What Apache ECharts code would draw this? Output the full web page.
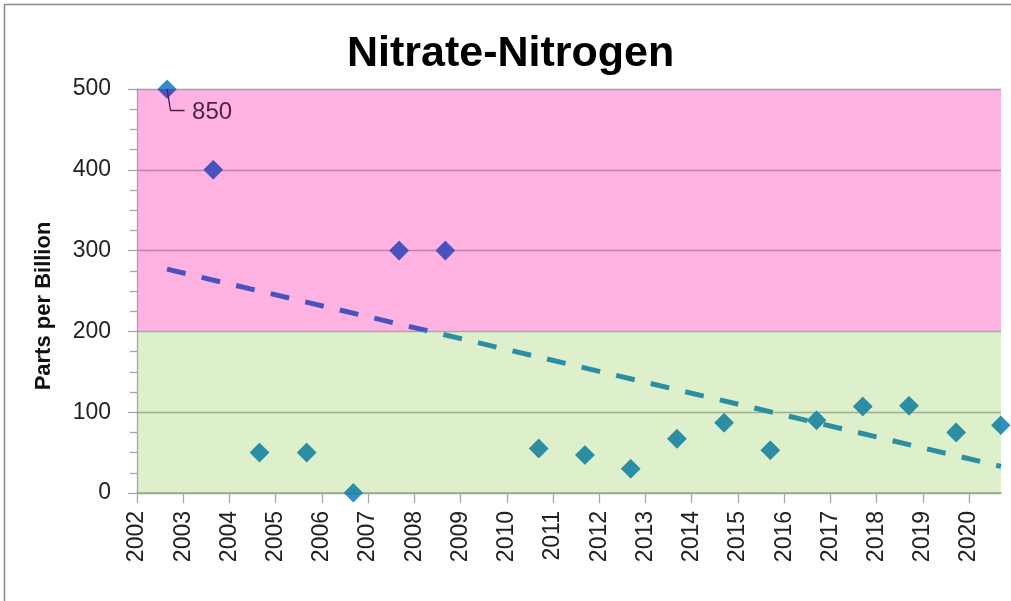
<!DOCTYPE html>
<html>
<head>
<meta charset="utf-8">
<title>Nitrate-Nitrogen</title>
<script src="https://cdn.jsdelivr.net/npm/echarts@6/dist/echarts.min.js"></script>
<style>
  html, body { margin: 0; padding: 0; background: #fff; }
  #chart { width: 1011px; height: 601px; }
</style>
</head>
<body>
<div id="chart"></div>
<script>
// sample dates (decimal years) and nitrate-nitrogen in ppb
var sampleYears = [2002.65, 2003.65, 2004.65, 2005.67, 2006.68, 2007.67, 2008.67, 2010.69, 2011.69,
  2012.68, 2013.68, 2014.70, 2015.70, 2016.70, 2017.70, 2018.70, 2019.72, 2020.69];
var nitrateValues = [500, 400, 50, 50, 0, 300, 300, 55, 47, 30, 67, 87, 53, 90, 107, 108, 75, 84];
// first sample is off the scale, drawn at the cap and labelled with its real value
var pointLabels = ['850'];
// linear trend, end points
var trendYears = [2002.65, 2020.69];
var trendValues = [277, 33];
var yearTicks = [2002, 2003, 2004, 2005, 2006, 2007, 2008, 2009, 2010, 2011,
  2012, 2013, 2014, 2015, 2016, 2017, 2018, 2019, 2020];
var xMin = 2002, xMax = 2020.69;
var threshold = 200;

var upperColor = '#4a52bd';
var lowerColor = '#2b8ea2';
var clipColor = '#0070c0';
var labelColor = '#4f1f4a';
var font = '"Liberation Sans", Arial, sans-serif';

var samples = sampleYears.map(function (x, i) { return [x, nitrateValues[i]]; });
var trend = trendYears.map(function (x, i) { return [x, trendValues[i]]; });

function drawSample(params, api) {
  var v = api.value(1);
  var p = api.coord([api.value(0), v]);
  var r = 9.8;
  var items = [{
    type: 'polygon',
    shape: { points: [[p[0], p[1] - r], [p[0] + r, p[1]], [p[0], p[1] + r], [p[0] - r, p[1]]] },
    style: { fill: v >= threshold ? upperColor : lowerColor }
  }];
  var label = pointLabels[params.dataIndex];
  if (label) {
    items.push({
      type: 'polyline',
      shape: { points: [[p[0], p[1]], [p[0] + 3.5, p[1] + 21.5], [p[0] + 17.5, p[1] + 21.5]] },
      style: { stroke: labelColor, lineWidth: 1.3, fill: null }
    });
    items.push({
      type: 'text', x: p[0] + 25, y: p[1] + 23.5,
      style: { text: label, fill: labelColor, fontSize: 24, fontFamily: font, align: 'left', verticalAlign: 'middle' }
    });
  }
  return { type: 'group', children: items };
}

var myChart = echarts.init(document.getElementById('chart'));
myChart.setOption({
  animation: false,
  title: {
    text: 'Nitrate-Nitrogen',
    left: 347,
    top: 33,
    padding: 0,
    textStyle: { fontSize: 43, fontWeight: 'bold', color: '#000', fontFamily: font }
  },
  graphic: [{
    type: 'rect', silent: true,
    shape: { x: 4.5, y: 4.5, width: 1040, height: 640 },
    style: { fill: null, stroke: '#8a8a8a', lineWidth: 1.5 }
  }],
  grid: { left: 137, right: 10, top: 89, bottom: 108 },
  visualMap: {
    type: 'piecewise', show: false, seriesIndex: 1, dimension: 1,
    pieces: [{ gte: -1000, lt: threshold, color: lowerColor }, { gte: threshold, lte: 10000, color: upperColor }]
  },
  xAxis: {
    type: 'value', min: xMin, max: xMax, interval: 1,
    axisLine: { show: true, lineStyle: { color: '#9aab86', width: 1.5 } },
    axisTick: { show: true, length: 10, customValues: yearTicks, lineStyle: { color: '#a6a6a6', width: 1.3 } },
    axisLabel: {
      rotate: 90, margin: 18, fontSize: 23, color: '#222', fontFamily: font,
      customValues: yearTicks,
      formatter: function (v) { return String(v); }
    },
    splitLine: { show: false }
  },
  yAxis: {
    type: 'value', min: 0, max: 500, interval: 100,
    name: 'Parts per Billion', nameLocation: 'middle', nameGap: 82,
    nameTextStyle: { fontSize: 22, fontWeight: 'bold', color: '#111', fontFamily: font, padding: [0, 30, 0, 0] },
    axisLine: { show: true, lineStyle: { color: '#b49aae', width: 1.3 } },
    axisTick: { show: true, length: 9, lineStyle: { color: '#a6a6a6', width: 1.3 } },
    minorTick: { show: true, splitNumber: 4, length: 7, lineStyle: { color: '#a6a6a6', width: 1.3 } },
    axisLabel: { margin: 26, fontSize: 23, color: '#222', fontFamily: font, padding: [6, 0, 0, 0] },
    splitLine: { show: true, lineStyle: { width: 1.3, color: ['#9aab86', '#9fae8a', '#a9a9a9', '#c67fa7', '#c67fa7', '#a0a0a0'] } },
    splitArea: { show: true, areaStyle: { color: ['#deefcb', '#deefcb', '#ffb3e3', '#ffb3e3', '#ffb3e3'] } }
  },
  series: [{
    // full markers; only the parts past the plot edge stay visible
    type: 'scatter', data: samples, clip: false,
    symbol: 'diamond', symbolSize: 19,
    itemStyle: { color: clipColor }, z: 2
  }, {
    type: 'line', data: trend, showSymbol: false, z: 3,
    lineStyle: { width: 5, type: [19, 16.5], cap: 'butt' }
  }, {
    type: 'custom', data: samples, clip: true, z: 4,
    renderItem: drawSample
  }]
});
</script>
</body>
</html>
